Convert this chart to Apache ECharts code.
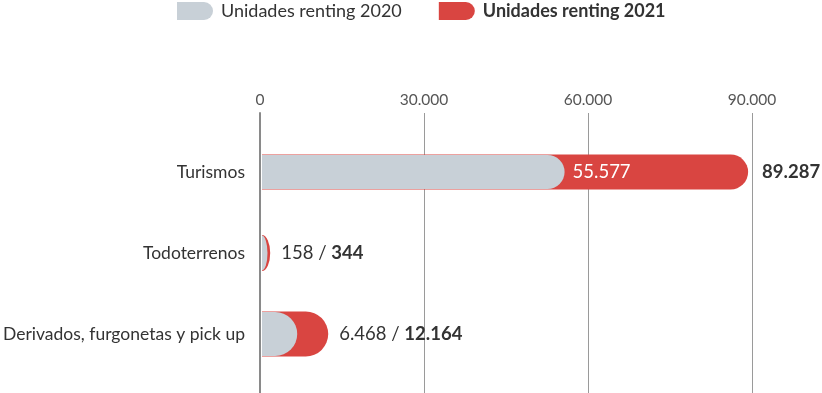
<!DOCTYPE html>
<html>
<head>
<meta charset="utf-8">
<script src="https://cdn.jsdelivr.net/npm/echarts@6/dist/echarts.min.js"></script>
<style>
html,body{margin:0;padding:0;background:#fff;}
#chart{width:822px;height:393px;}
</style>
</head>
<body>
<div id="chart"></div>
<script>
// ---- data ----
const categories = ['Turismos', 'Todoterrenos', 'Derivados, furgonetas y pick up'];
const units2020 = [55577, 158, 6468];
const units2021 = [89287, 344, 12164];
const seriesNames = ['Unidades renting 2020', 'Unidades renting 2021'];
const axisMin = 0, axisMax = 90000, axisStep = 30000;

// ---- style ----
const GREY = '#c8d0d7';
const RED = '#d94541';
const TEXT = '#333333';
const FONT = 'Lato, "Open Sans", sans-serif';
const NUM_SIZE = 18.5;
const barHeights = [34, 35, 44];

function fmt(n) {
  return String(n).replace(/\B(?=(\d{3})+(?!\d))/g, '.');
}

function barGeom(api, v, i, extra) {
  const p0 = api.coord([0, i]);
  const p1 = api.coord([v, i]);
  const h = barHeights[i] + extra;
  const r = h / 2;
  const x0 = p0[0], x1 = p1[0], cy = p0[1];
  const w = Math.max(0, x1 - x0);
  const rx = Math.min(r, Math.sqrt(2 * w * r));
  const cs = Math.max(x0, x1 - rx);
  return { x0, cy, r, rx, cs, end: cs + rx };
}

function barPath(g) {
  return 'M' + g.x0 + ',' + (g.cy - g.r) + ' L' + g.cs + ',' + (g.cy - g.r) +
    ' A' + g.rx + ',' + g.r + ' 0 0 1 ' + g.cs + ',' + (g.cy + g.r) +
    ' L' + g.x0 + ',' + (g.cy + g.r) + ' Z';
}

function render2021(params, api) {
  const i = api.value(1);
  const v = api.value(0);
  const g = barGeom(api, v, i, 1);
  const gPrev = barGeom(api, units2020[i], i, 0);
  const children = [{
    type: 'path',
    shape: { pathData: barPath(g) },
    style: { fill: RED }
  }];
  const inside = (g.end - gPrev.end) > 80;
  if (inside) {
    children.push({
      type: 'text',
      style: {
        text: fmt(v), x: g.end + 14, y: g.cy, align: 'left', verticalAlign: 'middle',
        fill: TEXT, fontSize: NUM_SIZE, fontWeight: 'bold', fontFamily: FONT
      }
    });
  } else {
    children.push({
      type: 'text',
      style: {
        text: '{n|' + fmt(units2020[i]) + ' / }{b|' + fmt(v) + '}',
        x: g.end + 11, y: g.cy, align: 'left', verticalAlign: 'middle',
        rich: {
          n: { fill: TEXT, fontSize: NUM_SIZE, fontFamily: FONT, fontWeight: 'normal' },
          b: { fill: TEXT, fontSize: NUM_SIZE, fontFamily: FONT, fontWeight: 'bold' }
        }
      }
    });
  }
  return { type: 'group', children };
}

function render2020(params, api) {
  const i = api.value(1);
  const v = api.value(0);
  const g = barGeom(api, v, i, 0);
  const gNext = barGeom(api, units2021[i], i, 1);
  const children = [{
    type: 'path',
    shape: { pathData: barPath(g) },
    style: { fill: GREY }
  }];
  if ((gNext.end - g.end) > 80) {
    children.push({
      type: 'text',
      style: {
        text: fmt(v), x: g.end + 8, y: g.cy, align: 'left', verticalAlign: 'middle',
        fill: '#ffffff', fontSize: NUM_SIZE, fontFamily: FONT
      }
    });
  }
  return { type: 'group', children };
}

const chart = echarts.init(document.getElementById('chart'), null, { renderer: 'canvas' });
chart.setOption({
  animation: false,
  backgroundColor: '#ffffff',
  textStyle: { fontFamily: FONT },
  legend: {
    left: 177, top: 2, padding: 0,
    itemWidth: 36, itemHeight: 18, itemGap: 37,
    icon: 'path://M0,0 L27,0 A9,9 0 0 1 27,18 L0,18 Z',
    textStyle: { fontSize: 18, color: TEXT, fontFamily: FONT, padding: [0, 0, 0, 3] },
    data: [
      { name: seriesNames[0] },
      { name: seriesNames[1], textStyle: { fontWeight: 'bold' } }
    ],
    selectedMode: false
  },
  grid: [
    { left: 260, right: 70, top: 113, bottom: 0 },
    { left: 260, right: 70, top: 131.5, bottom: 18.5 }
  ],
  xAxis: [
    {
      gridIndex: 0, type: 'value', position: 'top',
      min: axisMin, max: axisMax, interval: axisStep,
      axisLine: { show: false }, axisTick: { show: false },
      axisLabel: { formatter: fmt, fontSize: 15.5, color: '#555', margin: 5, fontFamily: FONT },
      splitLine: { show: true, lineStyle: { color: '#9a9a9a', width: 1 } }
    },
    {
      gridIndex: 1, type: 'value', min: axisMin, max: axisMax, interval: axisStep, show: false
    }
  ],
  yAxis: [
    {
      gridIndex: 0, type: 'value', z: 10,
      axisLine: { show: true, lineStyle: { color: '#8a8a8a', width: 2 } },
      axisTick: { show: false }, axisLabel: { show: false }, splitLine: { show: false }
    },
    {
      gridIndex: 1, type: 'category', data: categories, inverse: true,
      axisLine: { show: false }, axisTick: { show: false },
      axisLabel: { fontSize: 17.5, color: TEXT, margin: 17, fontFamily: FONT },
      splitLine: { show: false }
    }
  ],
  series: [
    {
      name: seriesNames[1], type: 'custom', xAxisIndex: 1, yAxisIndex: 1,
      itemStyle: { color: RED },
      encode: { x: 0, y: 1 },
      data: units2021.map((v, i) => [v, i]),
      renderItem: render2021, z: 2
    },
    {
      name: seriesNames[0], type: 'custom', xAxisIndex: 1, yAxisIndex: 1,
      itemStyle: { color: GREY },
      encode: { x: 0, y: 1 },
      data: units2020.map((v, i) => [v, i]),
      renderItem: render2020, z: 3
    }
  ]
});
</script>
</body>
</html>
